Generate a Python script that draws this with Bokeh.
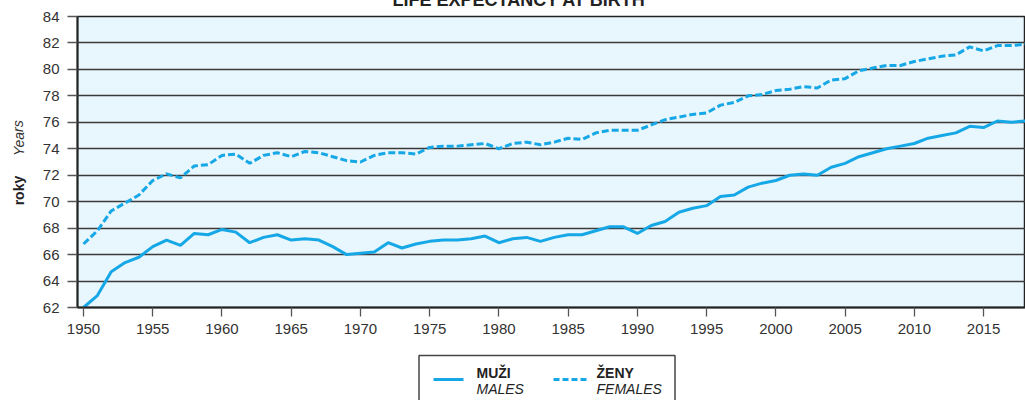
from bokeh.plotting import figure
from bokeh.models import Range1d, FixedTicker
from bokeh.layouts import column, row
from bokeh.embed import file_html
from bokeh.resources import INLINE
from bokeh.core.properties import value

# ---- data ----
years = list(range(1950, 2019))
males = [62.0, 62.9, 64.7, 65.4, 65.8, 66.6, 67.1, 66.7, 67.6, 67.5,
         67.9, 67.7, 66.9, 67.3, 67.5, 67.1, 67.2, 67.1, 66.6, 66.0,
         66.1, 66.2, 66.9, 66.5, 66.8, 67.0, 67.1, 67.1, 67.2, 67.4,
         66.9, 67.2, 67.3, 67.0, 67.3, 67.5, 67.5, 67.8, 68.1, 68.1,
         67.6, 68.2, 68.5, 69.2, 69.5, 69.7, 70.4, 70.5, 71.1, 71.4,
         71.6, 72.0, 72.1, 72.0, 72.6, 72.9, 73.4, 73.7, 74.0, 74.2,
         74.4, 74.8, 75.0, 75.2, 75.7, 75.6, 76.1, 76.0, 76.1]
females = [66.8, 67.8, 69.3, 69.9, 70.5, 71.6, 72.1, 71.8, 72.7, 72.8,
           73.5, 73.6, 72.9, 73.5, 73.7, 73.4, 73.8, 73.7, 73.4, 73.1,
           73.0, 73.5, 73.7, 73.7, 73.6, 74.1, 74.2, 74.2, 74.3, 74.4,
           74.0, 74.4, 74.5, 74.3, 74.5, 74.8, 74.7, 75.2, 75.4, 75.4,
           75.4, 75.8, 76.2, 76.4, 76.6, 76.7, 77.3, 77.5, 78.0, 78.1,
           78.4, 78.5, 78.7, 78.6, 79.2, 79.3, 79.9, 80.1, 80.3, 80.3,
           80.6, 80.8, 81.0, 81.1, 81.7, 81.4, 81.8, 81.8, 81.9]
y_ticks = list(range(62, 85, 2))
x_ticks = list(range(1950, 2016, 5))
title_text = "LIFE EXPECTANCY AT BIRTH"
ylabel_cz = ["roky"]
ylabel_en = ["Years"]
legend_cz = ["MUŽI", "ŽENY"]
legend_en = ["MALES", "FEMALES"]

BLUE = "#16a8e6"
FONT = "Liberation Sans"
TOP = 38      # canvas px above the plot frame
BOTTOM = 38
LEFT_STRIP = 30

# ---- main chart ----
p = figure(width=1025 - LEFT_STRIP, height=TOP + 291 + BOTTOM,
           output_backend="svg", toolbar_location=None,
           x_range=Range1d(1949.566, 2018.03), y_range=Range1d(62, 84),
           min_border_left=77 - LEFT_STRIP, min_border_right=0,
           min_border_top=TOP, min_border_bottom=BOTTOM)
p.title.text = title_text
p.title.align = "left"
p.title.offset = 315
p.title.text_font = FONT
p.title.text_font_size = "18px"
p.title.text_font_style = "bold"
p.title.text_color = "#222222"
p.title.standoff = 14

p.background_fill_color = "#e8f6fd"
p.border_fill_color = "white"
p.outline_line_color = "#222222"
p.outline_line_width = 1.5

p.xgrid.visible = False
p.ygrid.ticker = FixedTicker(ticks=y_ticks)
p.ygrid.grid_line_color = "#3a3a3a"
p.ygrid.grid_line_width = 1.3

p.yaxis.ticker = FixedTicker(ticks=y_ticks)
p.yaxis.minor_tick_line_color = None
p.yaxis.major_tick_out = 10
p.yaxis.major_tick_in = 0
p.yaxis.major_tick_line_color = "#555555"
p.yaxis.major_tick_line_width = 1.3
p.yaxis.axis_line_color = "#222222"
p.yaxis.axis_line_width = 2
p.yaxis.major_label_standoff = 8
p.yaxis.major_label_text_font = FONT
p.yaxis.major_label_text_font_size = "15px"
p.yaxis.major_label_text_color = "#333333"

p.xaxis.ticker = FixedTicker(ticks=x_ticks)
p.xaxis.minor_tick_line_color = None
p.xaxis.major_tick_out = 9
p.xaxis.major_tick_in = 0
p.xaxis.major_tick_line_color = "#555555"
p.xaxis.major_tick_line_width = 1.3
p.xaxis.axis_line_color = "#222222"
p.xaxis.axis_line_width = 2
p.xaxis.major_label_standoff = 7
p.xaxis.major_label_text_font = FONT
p.xaxis.major_label_text_font_size = "15px"
p.xaxis.major_label_text_color = "#333333"

p.line(years, males, line_color=BLUE, line_width=3)
p.line(years, females, line_color=BLUE, line_width=3, line_dash="7 3")

# ---- left strip with the rotated axis title ----
lab = figure(width=LEFT_STRIP, height=TOP + 291 + BOTTOM, output_backend="svg",
             toolbar_location=None, x_range=Range1d(0, LEFT_STRIP),
             y_range=Range1d(62, 84), min_border_left=0, min_border_right=0,
             min_border_top=TOP, min_border_bottom=BOTTOM)
lab.axis.visible = False
lab.grid.visible = False
lab.outline_line_color = None
lab.background_fill_color = "white"
lab.border_fill_color = "white"
lab.text(x=[18], y=[70.84], text=ylabel_cz, angle=1.5708, text_align="center",
         text_baseline="middle", text_font=value(FONT), text_font_size="14px",
         text_font_style="bold", text_color="#222222")
lab.text(x=[18], y=[74.8], text=ylabel_en, angle=1.5708, text_align="center",
         text_baseline="middle", text_font=value(FONT), text_font_size="14px",
         text_font_style="italic", text_color="#333333")

# ---- legend panel ----
q = figure(width=1025 - LEFT_STRIP, height=60, output_backend="svg",
           toolbar_location=None, x_range=Range1d(77, 1025),
           y_range=Range1d(405, 345), min_border_left=77 - LEFT_STRIP,
           min_border_right=0, min_border_top=0, min_border_bottom=0)
q.axis.visible = False
q.grid.visible = False
q.outline_line_color = None
q.background_fill_color = "white"
q.border_fill_color = "white"

q.quad(left=[418.5], right=[674.5], top=[355], bottom=[420],
       fill_color="white", line_color="#444444", line_width=1.5)
q.line([433, 463], [379, 379], line_color=BLUE, line_width=3)
q.line([553, 586], [379, 379], line_color=BLUE, line_width=3, line_dash="6 3")
q.text(x=[476, 596], y=[372, 372], text=legend_cz, text_font=value(FONT),
       text_font_size="14px", text_font_style="bold", text_color="#222222",
       text_baseline="middle", text_align="left")
q.text(x=[476, 596], y=[388, 388], text=legend_en, text_font=value(FONT),
       text_font_size="14px", text_font_style="italic", text_color="#222222",
       text_baseline="middle", text_align="left")

layout = row(lab, column(p, q), styles={"margin-top": f"-{TOP - 16}px"})
open("out.html", "w").write(file_html(layout, INLINE))
